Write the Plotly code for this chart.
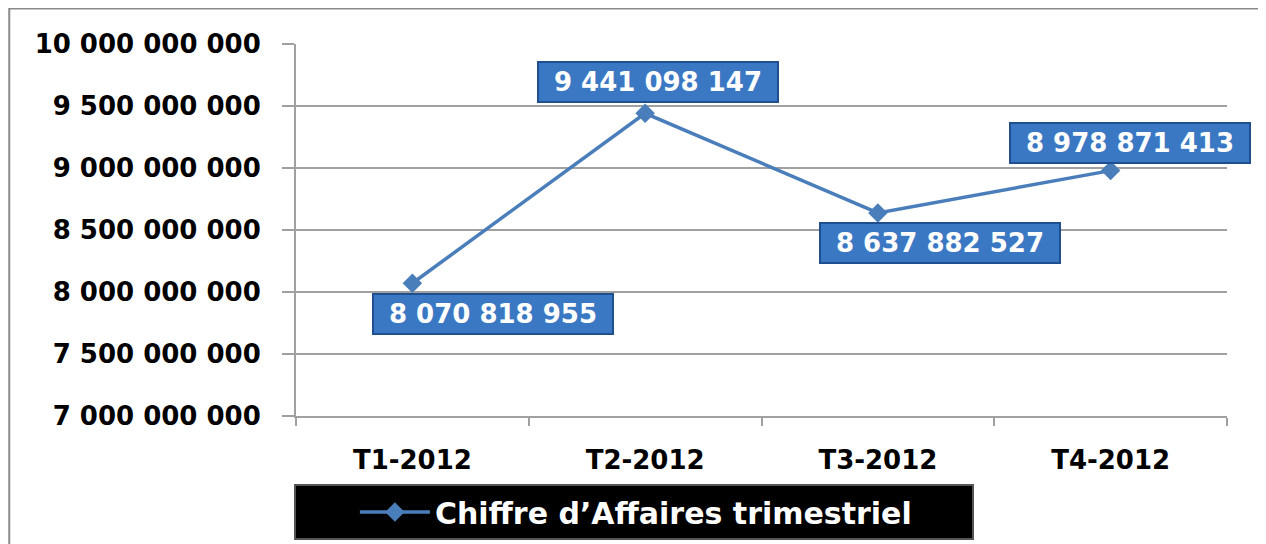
import plotly.graph_objects as go

categories = ["T1-2012", "T2-2012", "T3-2012", "T4-2012"]
values = [8070818955, 9441098147, 8637882527, 8978871413]
series_name = "Chiffre d\u2019Affaires trimestriel"
label_shifts = [(81, -31), (13, 31), (62, -30), (19, 28)]


def fmt(v):
    return f"{v:,}".replace(",", " ")


fig = go.Figure()
fig.add_trace(go.Scatter(
    x=categories, y=values, name=series_name, mode="lines+markers",
    line=dict(color="#4a7ebb", width=3.5),
    marker=dict(symbol="diamond", size=15, color="#4a7ebb"),
))

for c, v, (dx, dy) in zip(categories, values, label_shifts):
    fig.add_annotation(
        x=c, y=v, xref="x", yref="y", text=f"<b>{fmt(v)}</b>",
        showarrow=False, xshift=dx, yshift=dy,
        font=dict(family="DejaVu Sans", size=26, color="white"),
        bgcolor="#3b78c4", bordercolor="#1f4f8f", borderwidth=2, borderpad=3,
        width=232, height=32,
    )

fig.add_shape(type="rect", xref="paper", yref="paper",
              x0=-0.308, x1=1.0376, y0=-0.40, y1=1.0955,
              line=dict(color="#8a8a8a", width=2), layer="below")

fig.update_layout(
    width=1258, height=536,
    margin=dict(l=288, r=39, t=36, b=128, autoexpand=False),
    paper_bgcolor="white", plot_bgcolor="white",
    separators=", ",
    font=dict(family="DejaVu Sans", color="black"),
    showlegend=True,
    legend=dict(
        x=-0.002, xanchor="left", y=-0.183, yanchor="top",
        bgcolor="black", bordercolor="#555555", borderwidth=2,
        font=dict(family="DejaVu Sans", size=30, color="white", weight="bold"),
        title=dict(text="\u00a0" * 5, side="left",
                   font=dict(family="DejaVu Sans", size=28, color="white")),
        orientation="h", entrywidth=532, itemwidth=70,
    ),
    xaxis=dict(
        type="category", range=[-0.5, 3.5], automargin=False,
        showline=True, linecolor="#a0a0a0", linewidth=2,
        ticks="outside", tickson="boundaries", ticklen=8, tickcolor="#a0a0a0", tickwidth=2,
        showgrid=False, ticklabelstandoff=20,
        tickfont=dict(family="DejaVu Sans", size=26, color="black", weight="bold"),
    ),
    yaxis=dict(
        range=[7000000000, 10000000000], dtick=500000000, tickformat=",d",
        automargin=False,
        showline=True, linecolor="#a0a0a0", linewidth=2,
        showgrid=True, gridcolor="#a0a0a0", gridwidth=2,
        ticks="outside", ticklen=12, tickcolor="#a0a0a0", tickwidth=2,
        ticklabelstandoff=16,
        tickfont=dict(family="DejaVu Sans", size=26, color="black", weight="bold"),
        zeroline=False,
    ),
)

fig.write_html("out.html")
